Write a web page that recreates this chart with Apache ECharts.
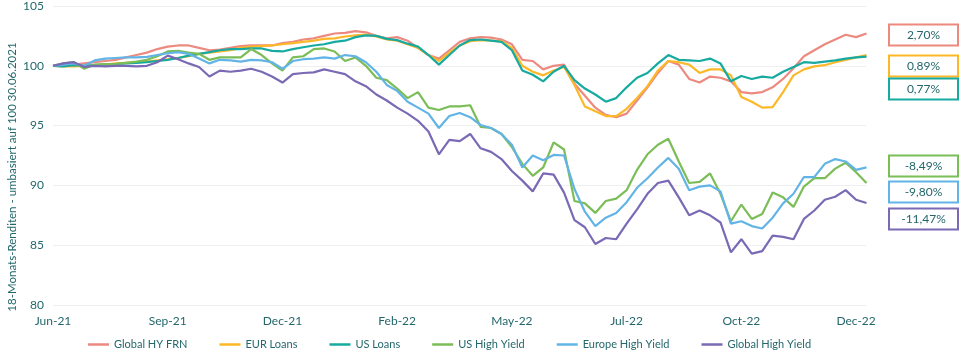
<!DOCTYPE html>
<html>
<head>
<meta charset="utf-8">
<script src="https://cdn.jsdelivr.net/npm/echarts@6/dist/echarts.min.js"></script>
<style>
  html, body { margin: 0; padding: 0; background: #fff; }
  #chart { width: 960px; height: 352px; }
</style>
</head>
<body>
<div id="chart"></div>
<script>
// weekly index values, 30.06.2021 = 100
var globalHyFrn = [100.0,100.1,100.1,100.2,100.3,100.4,100.5,100.7,100.9,101.1,101.4,101.6,101.7,101.7,101.5,101.3,101.35,101.5,101.65,101.7,101.7,101.7,101.9,102.0,102.2,102.3,102.5,102.7,102.75,102.9,102.8,102.5,102.3,102.4,102.1,101.5,100.9,100.6,101.3,102.0,102.3,102.4,102.35,102.2,101.8,100.5,100.4,99.7,100.0,100.1,98.5,97.5,96.5,95.9,95.7,96.0,97.1,98.2,99.4,100.4,100.1,98.9,98.6,99.1,99.0,98.7,97.8,97.7,97.8,98.2,98.9,99.8,100.8,101.3,101.8,102.2,102.6,102.4,102.7];
var eurLoans = [100.0,99.95,99.95,100.0,100.05,100.1,100.2,100.25,100.3,100.35,100.45,100.55,100.65,100.8,101.0,101.1,101.2,101.3,101.5,101.6,101.65,101.7,101.8,101.9,102.0,102.1,102.25,102.3,102.45,102.55,102.6,102.45,102.2,102.1,101.8,101.5,100.9,100.4,101.1,101.7,102.05,102.15,102.1,102.05,101.5,100.0,99.5,99.2,99.6,99.9,98.4,96.6,96.2,95.8,95.8,96.4,97.3,98.3,99.6,100.4,100.3,100.1,99.4,99.7,99.7,99.2,97.4,97.0,96.5,96.55,97.8,99.2,99.7,99.95,100.05,100.3,100.5,100.7,100.89];
var usLoans = [100.0,99.95,100.05,100.0,100.05,100.1,100.15,100.2,100.25,100.3,100.4,100.5,100.65,100.85,101.0,101.15,101.3,101.4,101.4,101.45,101.45,101.25,101.2,101.4,101.55,101.7,101.8,102.0,102.1,102.4,102.55,102.5,102.25,102.15,101.85,101.6,100.9,100.1,100.9,101.7,102.15,102.2,102.1,102.0,101.3,99.6,99.25,98.7,99.5,100.0,98.8,98.1,97.6,97.0,97.3,98.2,99.0,99.4,100.2,100.9,100.5,100.45,100.4,100.6,100.2,98.7,99.15,98.9,99.1,99.0,99.5,99.9,100.3,100.25,100.35,100.45,100.6,100.7,100.77];
var usHighYield = [100.0,100.2,100.3,99.75,100.1,100.15,100.15,100.25,100.35,100.5,100.8,101.2,101.25,101.1,101.0,100.5,100.7,100.7,100.7,101.4,100.9,100.2,99.6,100.7,100.8,101.4,101.45,101.2,100.4,100.7,100.0,99.0,98.8,98.1,97.3,97.8,96.5,96.3,96.6,96.6,96.7,94.9,94.8,94.3,93.2,91.8,90.8,91.5,93.6,93.0,88.7,88.5,87.7,88.7,88.9,89.6,91.3,92.6,93.4,93.9,92.0,90.2,90.3,91.0,89.3,87.0,88.4,87.2,87.6,89.4,89.0,88.2,89.9,90.6,90.6,91.4,91.9,91.1,90.2];
var europeHighYield = [100.0,100.1,100.2,100.0,100.45,100.6,100.65,100.7,100.7,100.75,100.9,101.05,101.15,101.0,100.6,100.2,100.5,100.45,100.35,100.5,100.45,100.3,99.75,100.4,100.55,100.6,100.7,100.6,100.9,100.8,100.3,99.5,98.4,97.9,97.0,96.5,96.0,94.8,95.8,96.05,95.7,95.05,94.8,94.3,93.4,91.5,92.5,92.1,92.55,92.5,89.7,87.8,86.6,87.3,87.7,88.6,89.8,90.6,91.5,92.3,91.4,89.6,89.9,90.0,89.5,86.8,87.0,86.6,86.4,87.3,88.5,89.3,90.7,90.7,91.8,92.2,92.0,91.3,91.51];
var globalHighYield = [100.0,100.2,100.3,99.9,100.0,99.95,100.0,100.0,99.95,100.0,100.3,100.85,100.55,100.2,99.9,99.1,99.6,99.5,99.6,99.75,99.5,99.1,98.6,99.3,99.4,99.45,99.7,99.5,99.3,98.7,98.3,97.6,97.1,96.5,96.0,95.4,94.5,92.6,93.8,93.7,94.3,93.1,92.8,92.2,91.2,90.4,89.5,91.0,90.9,89.4,87.1,86.5,85.1,85.6,85.5,86.8,88.0,89.3,90.2,90.4,89.0,87.5,87.9,87.5,86.9,84.4,85.5,84.3,84.5,85.8,85.7,85.5,87.2,87.9,88.8,89.05,89.6,88.8,88.53];

var seriesNames = ['Global HY FRN', 'EUR Loans', 'US Loans', 'US High Yield', 'Europe High Yield', 'Global High Yield'];
var seriesColors = ['#ec8a80', '#fdb827', '#17aaa0', '#7bbd57', '#63b4e6', '#7a69b4'];
var endLabels = ['2,70%', '0,89%', '0,77%', '-8,49%', '-9,80%', '-11,47%'];
// vertical centre of each result box (px)
var endLabelY = [34, 65, 88, 165, 191, 218];
var yAxisTitle = '18-Monats-Renditen - umbasiert auf 100 30.06.2021';

var monthNames = ['Jan','Feb','Mar','Apr','May','Jun','Jul','Aug','Sep','Oct','Nov','Dec'];
var categories = [];
for (var i = 0; i < globalHyFrn.length; i++) {
    var d = new Date(Date.UTC(2021, 5, 30 + i * 7));
    categories.push(monthNames[d.getUTCMonth()] + '-' + String(d.getUTCFullYear()).slice(2));
}

var textColor = '#23676b';
var fontFamily = 'Lato, "Open Sans", sans-serif';
var allData = [globalHyFrn, eurLoans, usLoans, usHighYield, europeHighYield, globalHighYield];

var series = [];
for (var s = 0; s < seriesNames.length; s++) {
    series.push({
        name: seriesNames[s],
        type: 'line',
        data: allData[s],
        symbol: 'none',
        lineStyle: { width: 2.2, color: seriesColors[s] },
        itemStyle: { color: seriesColors[s] }
    });
}

var graphics = [{
    type: 'text',
    x: 12,
    y: 177,
    rotation: Math.PI / 2,
    style: { text: yAxisTitle, fill: textColor, font: '11.5px ' + fontFamily,
             align: 'center', verticalAlign: 'middle' }
}];
for (var k = 0; k < endLabels.length; k++) {
    graphics.push({
        type: 'group',
        left: 888,
        top: endLabelY[k] - 10.5,
        children: [
            { type: 'rect', shape: { x: 0, y: 0, width: 69, height: 21 },
              style: { fill: '#fff', stroke: seriesColors[k], lineWidth: 2 } },
            { type: 'text', x: 34.5, y: 10.5,
              style: { text: endLabels[k], fill: textColor, font: '12px ' + fontFamily,
                       align: 'center', verticalAlign: 'middle' } }
        ]
    });
}

var option = {
    animation: false,
    textStyle: { fontFamily: fontFamily },
    grid: { left: 53, right: 93.5, top: 6, bottom: 47 },
    legend: {
        data: seriesNames,
        left: 83,
        bottom: -3,
        icon: 'rect',
        itemWidth: 21,
        itemHeight: 2.5,
        itemGap: 32,
        textStyle: { color: textColor, fontSize: 11, fontFamily: fontFamily }
    },
    xAxis: {
        type: 'category',
        data: categories,
        boundaryGap: false,
        axisLine: { show: false },
        axisTick: { show: false },
        axisLabel: { interval: 10, color: textColor, fontSize: 12, margin: 10 }
    },
    yAxis: {
        type: 'value',
        min: 80,
        max: 105,
        interval: 5,
        axisLine: { show: false },
        axisTick: { show: false },
        axisLabel: { color: textColor, fontSize: 12, margin: 9 },
        splitLine: { lineStyle: { color: '#efefef', width: 1 } }
    },
    graphic: graphics,
    series: series
};

var chart = echarts.init(document.getElementById('chart'));
chart.setOption(option);
</script>
</body>
</html>
